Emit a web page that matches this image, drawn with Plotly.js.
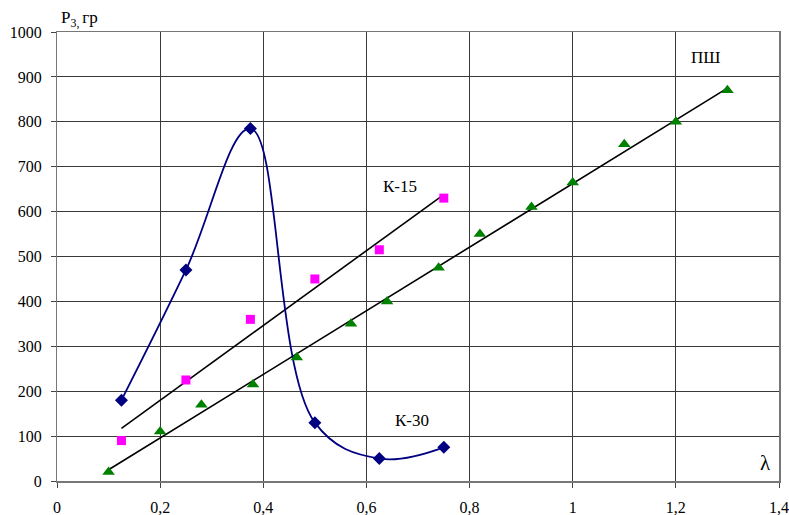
<!DOCTYPE html>
<html>
<head>
<meta charset="utf-8">
<script src="https://cdn.plot.ly/plotly-3.0.1.min.js"></script>
<style>html,body{margin:0;padding:0;background:#fff;}#chart{width:789px;height:515px;}</style>
</head>
<body>
<div id="chart"></div>
<script>
// K-30 (smoothed curve with diamonds)
const k30X = [0.125, 0.25, 0.375, 0.5, 0.625, 0.75];
const k30Y = [180, 470, 785, 130, 50, 75];
// K-15 (squares) and its trend line end points
const k15X = [0.125, 0.25, 0.375, 0.5, 0.625, 0.75];
const k15Y = [90, 225, 360, 450, 515, 630];
const k15TrendX = [0.125, 0.75];
const k15TrendY = [117, 638];
// ПШ (triangles) and its trend line end points
const pshX = [0.1, 0.2, 0.28, 0.38, 0.465, 0.57, 0.64, 0.74, 0.82, 0.92, 1.0, 1.1, 1.2, 1.3];
const pshY = [20, 110, 170, 215, 275, 350, 400, 475, 550, 610, 665, 750, 800, 870];
const pshTrendX = [0.1, 1.3];
const pshTrendY = [25, 875];
// axis ticks
const xTicks = [0, 0.2, 0.4, 0.6, 0.8, 1, 1.2, 1.4];
const xTickText = ['0', '0,2', '0,4', '0,6', '0,8', '1', '1,2', '1,4'];
const yTicks = [0, 100, 200, 300, 400, 500, 600, 700, 800, 900, 1000];
const yTickText = ['0', '100', '200', '300', '400', '500', '600', '700', '800', '900', '1000'];

const serif = 'Liberation Serif';
const tickFont = {family: serif, size: 16, color: '#000'};
const labelFont = {family: serif, size: 17, color: '#000'};

const traces = [
  {x: k15TrendX, y: k15TrendY, mode: 'lines', line: {color: '#000', width: 1.6}},
  {x: pshTrendX, y: pshTrendY, mode: 'lines', line: {color: '#000', width: 1.6}},
  {x: k30X, y: k30Y, mode: 'lines+markers', line: {color: '#000080', width: 1.8, shape: 'spline', smoothing: 1.1},
   marker: {symbol: 'diamond', size: 10, color: '#000080'}},
  {x: k15X, y: k15Y, mode: 'markers', marker: {symbol: 'square', size: 9, color: '#FF00FF'}},
  {x: pshX, y: pshY, mode: 'markers', marker: {symbol: 'triangle-up', size: 11, color: '#008000'}},
  // carrier for the label axes
  {x: [], y: [], xaxis: 'x2', yaxis: 'y2', mode: 'markers'}
];

const layout = {
  width: 789, height: 515,
  margin: {l: 57, r: 10, t: 32, b: 34},
  paper_bgcolor: '#fff', plot_bgcolor: '#fff',
  showlegend: false,
  font: {family: serif, size: 16, color: '#000'},
  xaxis: {
    range: [0, 1.4], tickmode: 'array', tickvals: xTicks, showticklabels: false,
    showgrid: true, gridcolor: '#3a3a3a', gridwidth: 1,
    zeroline: false, showline: true, linecolor: '#777', linewidth: 1.5, mirror: true,
    ticks: 'outside', ticklen: 5, tickcolor: '#444'
  },
  yaxis: {
    range: [0, 1000], tickmode: 'array', tickvals: yTicks, showticklabels: false,
    showgrid: true, gridcolor: '#3a3a3a', gridwidth: 1,
    zeroline: false, showline: true, linecolor: '#777', linewidth: 1.5, mirror: true,
    ticks: 'outside', ticklen: 5, tickcolor: '#444'
  },
  xaxis2: {
    overlaying: 'x', anchor: 'y2', side: 'bottom',
    range: [0, 1.4], tickmode: 'array', tickvals: xTicks, ticktext: xTickText,
    showgrid: false, zeroline: false, showline: false,
    ticks: 'outside', ticklen: 12, tickcolor: 'rgba(0,0,0,0)', tickfont: tickFont
  },
  yaxis2: {
    overlaying: 'y', anchor: 'x2', side: 'left',
    range: [0, 1000], tickmode: 'array', tickvals: yTicks, ticktext: yTickText,
    showgrid: false, zeroline: false, showline: false,
    ticks: 'outside', ticklen: 11, tickcolor: 'rgba(0,0,0,0)', tickfont: tickFont
  },
  annotations: [
    {text: 'P<sub>3, </sub>гр', xref: 'paper', yref: 'paper', x: 0.003, y: 1.0, xanchor: 'left', yanchor: 'bottom',
     showarrow: false, font: labelFont},
    {text: 'К-15', xref: 'x', yref: 'y', x: 0.665, y: 657, showarrow: false, font: labelFont},
    {text: 'К-30', xref: 'x', yref: 'y', x: 0.688, y: 134, showarrow: false, font: labelFont},
    {text: 'ПШ', xref: 'x', yref: 'y', x: 1.258, y: 944, showarrow: false, font: labelFont},
    {text: 'λ', xref: 'x', yref: 'y', x: 1.373, y: 40, showarrow: false, font: {family: serif, size: 21, color: '#000'}}
  ]
};

Plotly.newPlot('chart', traces, layout, {displayModeBar: false, staticPlot: true});
</script>
</body>
</html>
